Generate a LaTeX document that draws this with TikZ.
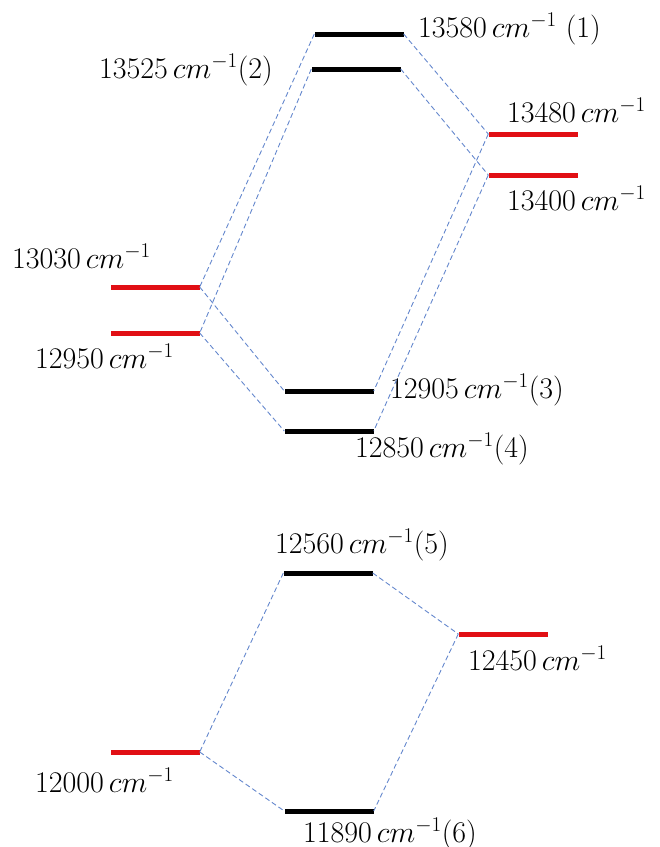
\RequirePackage{fix-cm}
\documentclass[tikz,border=0pt]{standalone}
\usepackage{tikz}
\usetikzlibrary{positioning}
\definecolor{lvlred}{RGB}{225,15,20}
\definecolor{linkblue}{RGB}{100,135,205}

\begin{document}
\begin{tikzpicture}[
    x=1pt, y=-1pt,
    font=\fontsize{30}{33}\selectfont,
    level/.style={rectangle, fill=black, minimum width=89pt, minimum height=5pt, inner sep=0pt},
    red level/.style={level, fill=lvlred},
    link/.style={dash pattern=on 5pt off 3pt, line width=0.9pt, color=linkblue},
    val/.style={inner sep=0pt}
]
    \useasboundingbox (0,0) rectangle (660,847);

    % upper set of levels
    \node[level] (e1) at (359,34) {};
    \node[level] (e2) at (356,69) {};
    \node[red level] (r1) at (533,134) {};
    \node[red level] (r2) at (533,175) {};
    \node[red level] (l1) at (155,287) {};
    \node[red level] (l2) at (155,333) {};
    \node[level] (e3) at (329,391) {};
    \node[level] (e4) at (329,431) {};

    % lower set of levels
    \node[level] (e5) at (328,573) {};
    \node[red level] (r3) at (503,634) {};
    \node[red level] (l3) at (155,752) {};
    \node[level] (e6) at (329,811) {};

    \node[val, anchor=base west] (t1) at (418,37) {$13580\,cm^{-1}$ (1)};
    \node[val, anchor=base east] (t2) at (273,78) {$13525\,cm^{-1}$(2)};
    \node[val, anchor=base west] (t3) at (507,122) {$13480\,cm^{-1}$};
    \node[val, anchor=base west] (t4) at (507,210) {$13400\,cm^{-1}$};
    \node[val, anchor=base west] (t5) at (12,268) {$13030\,cm^{-1}$};
    \node[val, anchor=base west] (t6) at (35,368) {$12950\,cm^{-1}$};
    \node[val, anchor=base west] (t7) at (390,398) {$12905\,cm^{-1}$(3)};
    \node[val, anchor=base west] (t8) at (355,457) {$12850\,cm^{-1}$(4)};
    \node[val, anchor=base west] (t9) at (275,553) {$12560\,cm^{-1}$(5)};
    \node[val, anchor=base west] (t10) at (468,670) {$12450\,cm^{-1}$};
    \node[val, anchor=base west] (t11) at (35,792) {$12000\,cm^{-1}$};
    \node[val, anchor=base west] (t12) at (303,842) {$11890\,cm^{-1}$(6)};

    \foreach \a/\b in {e1.west/l1.east, e2.west/l2.east, l1.east/e3.west, l2.east/e4.west,
                       e1.east/r1.west, e2.east/r2.west, r1.west/e3.east, r2.west/e4.east,
                       e5.west/l3.east, e5.east/r3.west, l3.east/e6.west, r3.west/e6.east} {
        \draw[link] (\a) -- (\b);
    }
\end{tikzpicture}
\end{document}
